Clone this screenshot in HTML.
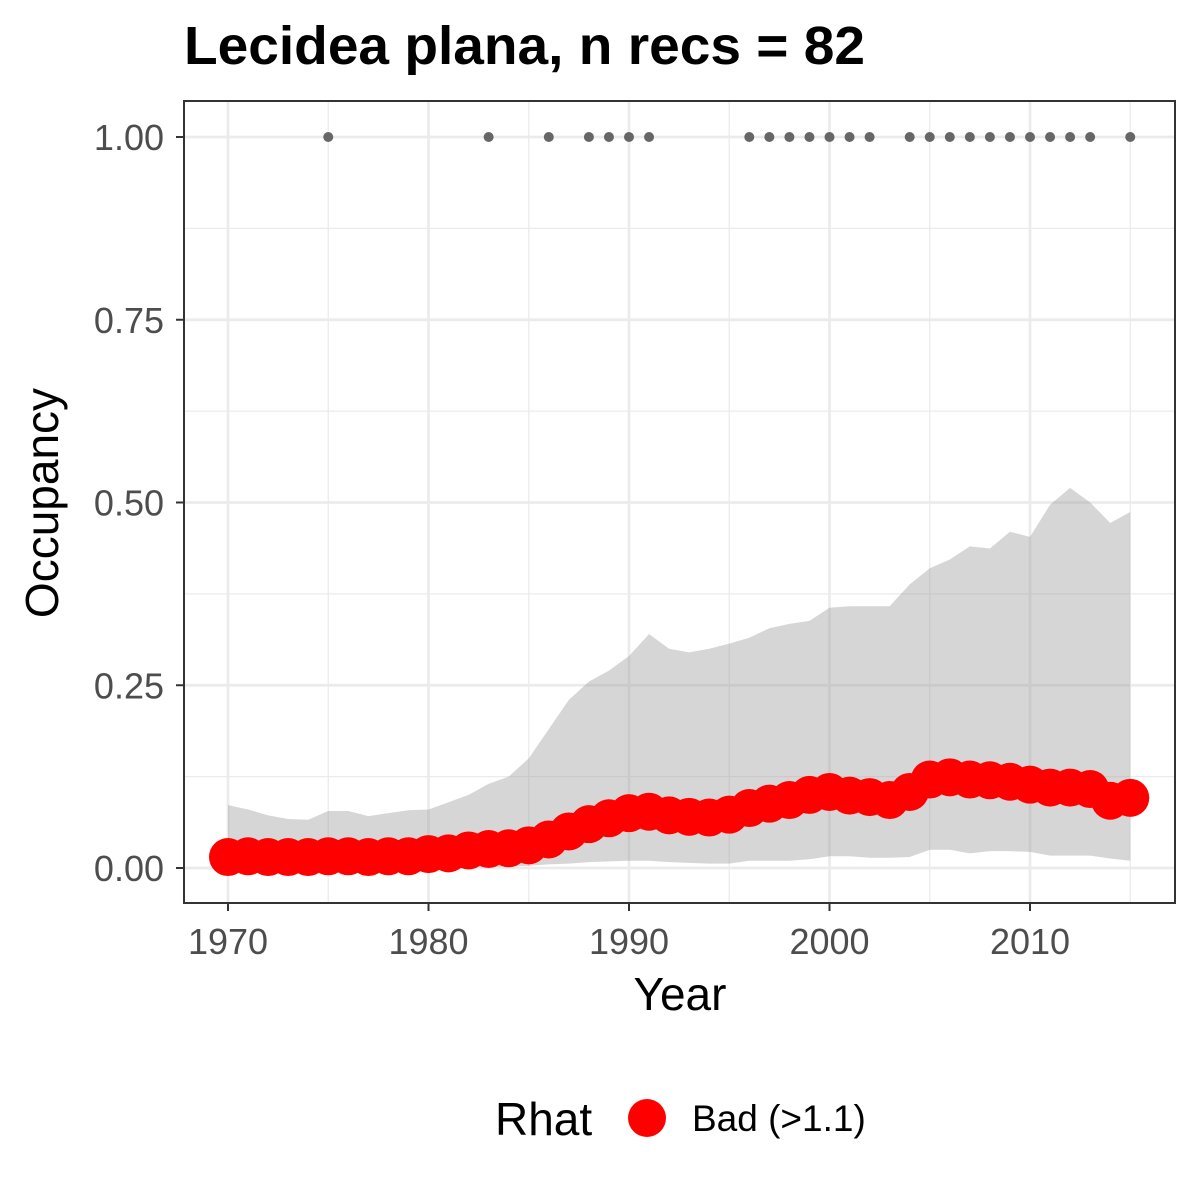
<!DOCTYPE html>
<html><head><meta charset="utf-8"><style>body{margin:0;background:#fff}svg{display:block;font-family:"Liberation Sans",Arial,sans-serif}</style></head>
<body>
<svg id="chart" width="1200" height="1200">
<rect width="1200" height="1200" fill="#fff"/>
<text x="184" y="64" font-size="54" font-weight="bold" fill="#000" textLength="681" lengthAdjust="spacingAndGlyphs">Lecidea plana, n recs = 82</text>
<g id="grid"></g><g id="band"></g><g id="recs"></g><g id="means"></g><g id="axes"></g>
<rect x="184" y="101" width="991" height="802" fill="none" stroke="#333" stroke-width="2"/>
<text x="680" y="1010" font-size="46" text-anchor="middle">Year</text>
<text transform="translate(58,503) rotate(-90)" font-size="46" text-anchor="middle">Occupancy</text>
<g>
<text x="495" y="1135" font-size="46">Rhat</text>
<circle cx="647" cy="1118" r="19" fill="#ff0000"/>
<text x="692" y="1131" font-size="37">Bad (&gt;1.1)</text>
</g>
</svg>
<script>
const years=[];for(let y=1970;y<=2015;y++)years.push(y);
const upper=[0.086,0.08,0.072,0.067,0.066,0.078,0.078,0.071,0.075,0.079,0.08,0.09,0.1,0.115,0.125,0.15,0.19,0.23,0.255,0.27,0.29,0.32,0.3,0.295,0.3,0.307,0.315,0.328,0.334,0.338,0.356,0.358,0.358,0.358,0.388,0.41,0.422,0.44,0.437,0.46,0.453,0.497,0.52,0.5,0.472,0.487];
const lower=[0.001,0.001,0.001,0.001,0.001,0.001,0.001,0.001,0.001,0.001,0.001,0.001,0.001,0.001,0.002,0.003,0.005,0.006,0.008,0.009,0.01,0.01,0.008,0.007,0.006,0.006,0.01,0.01,0.01,0.012,0.016,0.016,0.014,0.014,0.015,0.025,0.025,0.02,0.023,0.023,0.022,0.017,0.017,0.017,0.013,0.01];
const mean=[0.015,0.016,0.015,0.015,0.015,0.016,0.016,0.015,0.016,0.016,0.019,0.02,0.024,0.026,0.027,0.031,0.039,0.05,0.06,0.068,0.075,0.077,0.072,0.07,0.069,0.073,0.082,0.088,0.093,0.1,0.104,0.099,0.097,0.093,0.104,0.121,0.124,0.121,0.12,0.118,0.114,0.11,0.11,0.108,0.092,0.096];
const recYears=[1975,1983,1986,1988,1989,1990,1991,1996,1997,1998,1999,2000,2001,2002,2004,2005,2006,2007,2008,2009,2010,2011,2012,2013,2015];
const xTicks=[1970,1980,1990,2000,2010];
const yTicks=[0,0.25,0.5,0.75,1];
const yTickLabels=["0.00","0.25","0.50","0.75","1.00"];
const X=v=>228+(v-1970)*20.05, Y=v=>868-v*731;
const NS="http://www.w3.org/2000/svg";
function mk(t,a,p){const e=document.createElementNS(NS,t);for(const k in a)e.setAttribute(k,a[k]);p.appendChild(e);return e;}
const grid=document.getElementById('grid');
[1975,1985,1995,2005,2015].forEach(v=>{const l=mk('line',{x1:X(v),x2:X(v),y1:101,y2:903,stroke:'#ebebeb','stroke-width':1.3},grid);});
[0.125,0.375,0.625,0.875].forEach(v=>{const l=mk('line',{x1:184,x2:1175,y1:Y(v),y2:Y(v),stroke:'#ebebeb','stroke-width':1.3},grid);});
xTicks.forEach(v=>{const l=mk('line',{x1:X(v),x2:X(v),y1:101,y2:903,stroke:'#ebebeb','stroke-width':2.7},grid);});
yTicks.forEach(v=>{const l=mk('line',{x1:184,x2:1175,y1:Y(v),y2:Y(v),stroke:'#ebebeb','stroke-width':2.7},grid);});
let d='M'+years.map((y,i)=>X(y)+','+Y(upper[i])).join('L');
for(let i=years.length-1;i>=0;i--)d+='L'+X(years[i])+','+Y(lower[i]);
const band=mk('path',{d:d+'Z',fill:'#999','fill-opacity':0.4},document.getElementById('band'));


const recs=document.getElementById('recs');
recYears.forEach(y=>{const c=mk('circle',{cx:X(y),cy:Y(1),r:5,fill:'#666'},recs);});
const means=document.getElementById('means');
years.forEach((y,i)=>{const c=mk('circle',{cx:X(y),cy:Y(mean[i]),r:19,fill:'#ff0000'},means);});
const axes=document.getElementById('axes');
xTicks.forEach(v=>{const l=mk('line',{x1:X(v),x2:X(v),y1:903,y2:911,stroke:'#333','stroke-width':2},axes);
const t=mk('text',{x:X(v),y:954,'font-size':36,fill:'#4d4d4d','text-anchor':'middle'},axes);t.textContent=v;});
yTicks.forEach((v,i)=>{const l=mk('line',{x1:176,x2:184,y1:Y(v),y2:Y(v),stroke:'#333','stroke-width':2},axes);
const t=mk('text',{x:164,y:Y(v)+13,'font-size':36,fill:'#4d4d4d','text-anchor':'end'},axes);t.textContent=yTickLabels[i];});
</script>
</body></html>
